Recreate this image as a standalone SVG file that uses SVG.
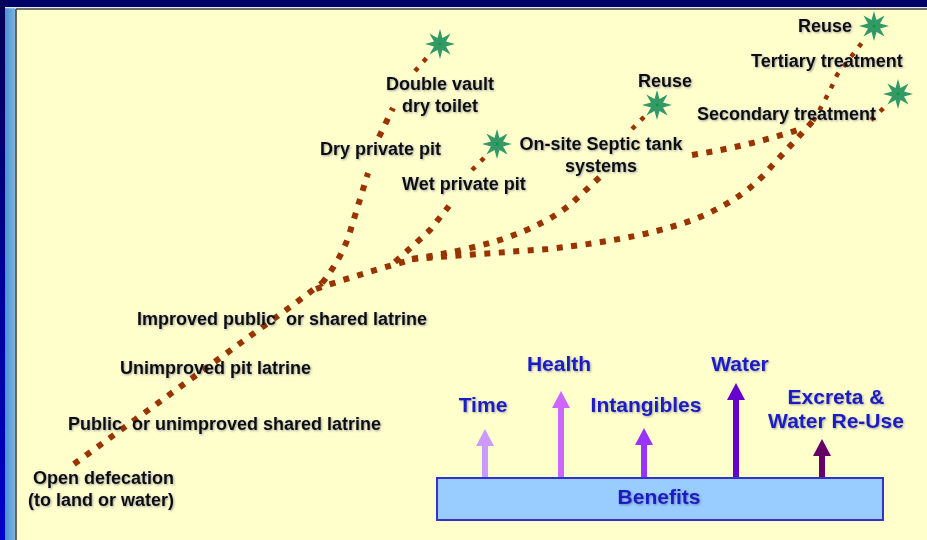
<svg xmlns="http://www.w3.org/2000/svg" xmlns:xlink="http://www.w3.org/1999/xlink" width="927" height="540" viewBox="0 0 927 540">
<style>
.lbl{font-family:"Liberation Sans",Arial,sans-serif;font-weight:bold;font-size:18px;fill:#111111;filter:url(#sh);white-space:pre}
.ben{font-family:"Liberation Sans",Arial,sans-serif;font-weight:bold;font-size:21px;fill:#1c1cc4;text-anchor:middle;filter:url(#sh)}
.thick{fill:none;stroke:#993300;stroke-width:6;stroke-dasharray:6 8.5}
.thin{fill:none;stroke:#993300;stroke-width:4.5;stroke-dasharray:4.5 8}
.star{fill:#339966}
.ctr{fill:#009933}
</style>
<defs>
<filter id="sh" x="-5%" y="-20%" width="110%" height="150%">
<feDropShadow dx="1" dy="1" stdDeviation="0.8" flood-color="#333366" flood-opacity="0.45"/>
</filter>
<linearGradient id="navy" x1="0" y1="0" x2="0" y2="1">
<stop offset="0" stop-color="#000055"/><stop offset="1" stop-color="#0000cc"/>
</linearGradient>
<linearGradient id="lb" x1="0" y1="0" x2="1" y2="0">
<stop offset="0" stop-color="#4f8fd0"/><stop offset="1" stop-color="#7ab8e6"/>
</linearGradient>
<polygon id="st" points="0,-15 2.49,-6.01 10.61,-10.61 6.01,-2.49 15,0 6.01,2.49 10.61,10.61 2.49,6.01 0,15 -2.49,6.01 -10.61,10.61 -6.01,2.49 -15,0 -6.01,-2.49 -10.61,-10.61 -2.49,-6.01"/>
</defs>

<g id="background">
<rect x="0" y="0" width="927" height="540" fill="#FFFFCC"/>
<rect x="0" y="0" width="927" height="7" fill="#000066"/>
<rect x="0" y="0" width="5" height="540" fill="url(#navy)"/>
<rect x="5" y="7" width="10.5" height="533" fill="url(#lb)"/>
<line x1="5" y1="7.6" x2="927" y2="7.6" stroke="#e8e8ff" stroke-width="1.2"/>
<line x1="16" y1="9" x2="927" y2="9" stroke="#444444" stroke-width="1.6"/>
<line x1="16" y1="9" x2="16" y2="540" stroke="#444444" stroke-width="1.6"/>
</g>

<g id="connectors">
<path class="thick" d="M74,464 L297,302 L322,283"/>
<path class="thick" d="M322,283 Q342,258 350,232 L368,173 M379,137 L393,108"/>
<path class="thin" d="M415,71 L431,53"/>
<path class="thick" d="M316,289 Q360,274 414,259"/>
<path class="thick" d="M395,262 Q415,244 430,230 L449,206"/>
<path class="thin" d="M472,170 L487,155"/>
<path class="thick" d="M412,259 Q460,252 500,240 Q548,224 572,203 L601,176"/>
<path class="thin" d="M632,129 L646,115"/>
<path class="thick" d="M412,259 Q480,254 548,249 Q650,238 700,217 Q745,198 770,168 L813,121"/>
<path class="thin" d="M813,121 Q826,100 837,75 L864,40"/>
<path class="thick" d="M692,155 Q750,146 804,128"/>
<path class="thin" d="M871,120 L889,103"/>
</g>

<g id="open-defecation"><text class="lbl" x="33" y="484">Open defecation</text><text class="lbl" x="28" y="506">(to land or water)</text></g>
<g id="public-shared"><text class="lbl" x="68" y="430" xml:space="preserve">Public  or unimproved shared latrine</text></g>
<g id="unimproved-pit"><text class="lbl" x="120" y="374">Unimproved pit latrine</text></g>
<g id="improved-public"><text class="lbl" x="137" y="325" xml:space="preserve">Improved public  or shared latrine</text></g>
<g id="dry-pit"><text class="lbl" x="320" y="155">Dry private pit</text></g>
<g id="double-vault">
<use xlink:href="#st" class="star" x="440" y="44"/><circle class="ctr" cx="440" cy="44" r="1.3"/>
<text class="lbl" x="440" y="90" text-anchor="middle">Double vault</text><text class="lbl" x="440" y="112" text-anchor="middle">dry toilet</text>
</g>
<g id="wet-pit">
<use xlink:href="#st" class="star" x="497" y="144"/><circle class="ctr" cx="497" cy="144" r="1.3"/>
<text class="lbl" x="402" y="190">Wet private pit</text>
</g>
<g id="septic">
<text class="lbl" x="601" y="150" text-anchor="middle">On-site Septic tank</text><text class="lbl" x="601" y="172" text-anchor="middle">systems</text>
</g>
<g id="septic-reuse">
<use xlink:href="#st" class="star" x="657" y="105"/><circle class="ctr" cx="657" cy="105" r="1.3"/>
<text class="lbl" x="638" y="87">Reuse</text>
</g>
<g id="secondary">
<use xlink:href="#st" class="star" x="898" y="94"/><circle class="ctr" cx="898" cy="94" r="1.3"/>
<text class="lbl" x="697" y="120">Secondary treatment</text>
</g>
<g id="tertiary"><text class="lbl" x="751" y="67">Tertiary treatment</text></g>
<g id="tertiary-reuse">
<use xlink:href="#st" class="star" x="874" y="26"/><circle class="ctr" cx="874" cy="26" r="1.3"/>
<text class="lbl" x="798" y="32">Reuse</text>
</g>

<g id="benefit-arrows">
<path fill="#CC99FF" d="M482,479 V446 H476 L485,429 L494,446 H488 V479 Z"/>
<path fill="#CC66FF" d="M558,479 V408 H552 L561,391 L570,408 H564 V479 Z"/>
<path fill="#9933FF" d="M641,479 V445 H635 L644,428 L653,445 H647 V479 Z"/>
<path fill="#6600CC" d="M733,479 V400 H727 L736,383 L745,400 H739 V479 Z"/>
<path fill="#660066" d="M819,479 V456 H813 L822,439 L831,456 H825 V479 Z"/>
</g>
<g id="time"><text class="ben" x="483" y="412">Time</text></g>
<g id="health"><text class="ben" x="559" y="371">Health</text></g>
<g id="intangibles"><text class="ben" x="646" y="412">Intangibles</text></g>
<g id="water"><text class="ben" x="740" y="371">Water</text></g>
<g id="reuse-benefit"><text class="ben" x="836" y="404">Excreta &amp;</text><text class="ben" x="836" y="428">Water Re-Use</text></g>
<g id="benefits">
<rect x="437" y="478" width="446" height="42" fill="#99CCFF" stroke="#3333CC" stroke-width="2"/>
<text class="ben" x="659" y="504">Benefits</text>
</g>
</svg>
